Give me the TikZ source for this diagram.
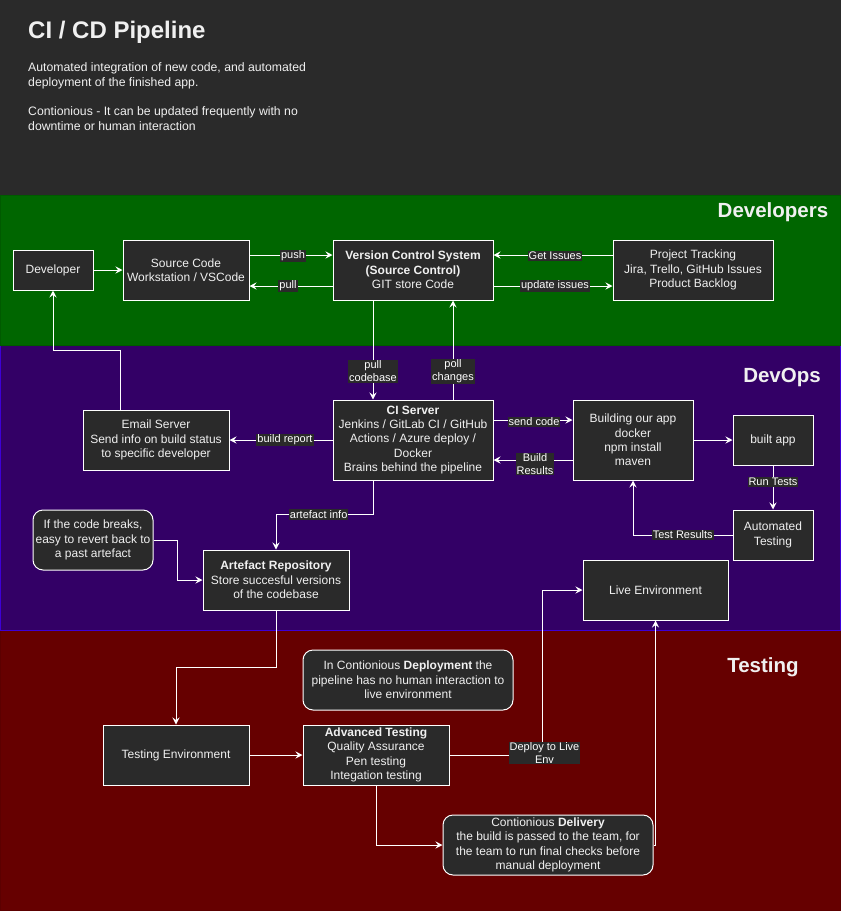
\documentclass[tikz,border=0pt]{standalone}
\usepackage{fontspec}
\setmainfont{Liberation Sans}
\usetikzlibrary{arrows.meta}
\definecolor{panel}{HTML}{2A2A2A}
\definecolor{devgreen}{HTML}{006600}
\definecolor{devgreenedge}{HTML}{005A00}
\definecolor{opspurple}{HTML}{330066}
\definecolor{opsedge}{HTML}{3D00D6}
\definecolor{testred}{HTML}{660000}
\definecolor{testedge}{HTML}{5C0000}
\definecolor{ink}{HTML}{F0F0F0}
\begin{document}
\begin{tikzpicture}[x=1pt,y=-1pt,
  box/.style={draw=white, line width=1pt, fill=panel, text=ink, align=center,
    inner sep=0pt, font=\fontsize{12}{14.4}\selectfont},
  note/.style={box, rounded corners=10pt},
  flow/.style={draw=white, line width=1pt, -{Stealth[length=7pt,width=7pt,inset=2.5pt]}},
  tag/.style={fill=panel, text=white, inner sep=1pt, align=center,
    font=\fontsize{11}{12.6}\selectfont},
  lane/.style={text=ink, font=\fontsize{20.5}{24}\selectfont\bfseries},
  para/.style={text=ink, anchor=west, align=left, inner sep=0pt,
    font=\fontsize{12.25}{15}\selectfont}
]
\useasboundingbox (0,0) rectangle (841,911);

% header and swimlanes
\fill[panel] (0,0) rectangle (841,195);
\filldraw[fill=testred, draw=testedge, line width=1pt] (0.5,630.5) rectangle (840.5,910.5);
\filldraw[fill=opspurple, draw=opsedge, line width=1pt] (0.5,345.5) rectangle (840.5,630.5);
\filldraw[fill=devgreen, draw=devgreenedge, line width=1pt] (0.5,195.5) rectangle (840.5,345.5);

\node[text=ink, anchor=west, inner sep=0pt, font=\fontsize{24}{28}\selectfont\bfseries] (title) at (28,32) {CI / CD Pipeline};
\node[para] (intro) at (28,76) {Automated integration of new code, and automated\\deployment of the finished app.};
\node[para] (cont) at (28,119) {Contionious - It can be updated frequently with no\\downtime or human interaction};

\node[lane] (devlane) at (773,212) {Developers};
\node[lane] (opslane) at (782,377) {DevOps};
\node[lane] (testlane) at (763,667) {Testing};

% Developers lane
\node[box, minimum width=80pt, minimum height=40pt] (dev) at (53,270) {Developer};
\node[box, minimum width=126pt, minimum height=60pt] (src) at (186,270) {Source Code\\Workstation / VSCode};
\node[box, minimum width=160pt, minimum height=60pt] (vcs) at (413,270) {\textbf{Version Control System}\\\textbf{(Source Control)}\\GIT store Code};
\node[box, minimum width=160pt, minimum height=60pt] (trk) at (693,270) {Project Tracking\\Jira, Trello, GitHub Issues\\Product Backlog};

% DevOps lane
\node[box, minimum width=146pt, minimum height=60pt] (email) at (156,440) {Email Server\\Send info on build status\\to specific developer};
\node[box, minimum width=160pt, minimum height=80pt] (ci) at (413,440) {\textbf{CI Server}\\Jenkins / GitLab CI / GitHub\\Actions / Azure deploy /\\Docker\\Brains behind the pipeline};
\node[box, minimum width=120pt, minimum height=80pt] (bld) at (633,440) {Building our app\\docker\\npm install\\maven};
\node[box, minimum width=80pt, minimum height=50pt] (app) at (773,440) {built app};
\node[box, minimum width=80pt, minimum height=50pt] (auto) at (773,535) {Automated\\Testing};
\node[box, minimum width=145pt, minimum height=60pt] (live) at (655.5,590) {Live Environment};
\node[note, minimum width=120pt, minimum height=60pt] (rev) at (93,540) {If the code breaks,\\easy to revert back to\\a past artefact};
\node[box, minimum width=146pt, minimum height=60pt] (art) at (276,580) {\textbf{Artefact Repository}\\Store succesful versions\\of the codebase};

% Testing lane
\node[box, minimum width=146pt, minimum height=60pt] (tenv) at (176,755) {Testing Environment};
\node[box, minimum width=146pt, minimum height=60pt] (adv) at (376,755) {\textbf{Advanced Testing}\\Quality Assurance\\Pen testing\\Integation testing};
\node[note, minimum width=210pt, minimum height=60pt] (cdep) at (408,680) {In Contionious \textbf{Deployment} the\\pipeline has no human interaction to\\live environment};
\node[note, minimum width=210pt, minimum height=60pt] (cd) at (548,845) {Contionious \textbf{Delivery}\\the build is passed to the team, for\\the team to run final checks before\\manual deployment};

% connectors
\draw[flow] (dev) -- (src);
\draw[flow] ([yshift=15pt]src.east) -- node[tag, yshift=-1pt, xshift=2pt]{push} ([yshift=15pt]vcs.west);
\draw[flow] ([yshift=-16pt]vcs.west) -- node[tag, xshift=-3pt]{pull} ([yshift=-16pt]src.east);
\draw[flow] ([yshift=15pt]trk.west) -- node[tag, yshift=-1pt, xshift=2pt]{Get Issues} ([yshift=15pt]vcs.east);
\draw[flow] ([yshift=-16pt]vcs.east) -- node[tag, xshift=2pt]{update issues} ([yshift=-16pt]trk.west);
\draw[flow] ([xshift=-40pt]vcs.south) -- node[tag, pos=0.715]{pull\\codebase} ([xshift=-40pt]ci.north);
\draw[flow] ([xshift=40pt]ci.north) -- node[tag, pos=0.285]{poll\\changes} ([xshift=40pt]vcs.south);
\draw[flow] ([xshift=-36pt]email.north) |- ([yshift=-60pt]dev.south) -- (dev.south);
\draw[flow] (ci.west) -- node[tag, xshift=4pt]{build report} (email.east);
\draw[flow] ([yshift=20pt]ci.east) -- node[tag, yshift=-2pt, xshift=1pt]{send code} ([yshift=20pt]bld.west);
\draw[flow] ([yshift=-20pt]bld.west) -- node[tag, yshift=-4pt, xshift=2pt]{Build\\Results} ([yshift=-20pt]ci.east);
\draw[flow] (bld.east) -- (app.west);
\draw[flow] (app.south) -- node[tag, pos=0.38]{Run Tests} (auto.north);
\draw[flow] (auto.west) -| node[tag, pos=0.25]{Test Results} (bld.south);
\draw[flow] ([xshift=-40pt]ci.south) |- node[tag, pos=0.78]{artefact info} ([yshift=35pt]art.north) -- (art.north);
\draw[flow] (rev.east) -| ([xshift=-25pt]art.west) -- (art.west);
\draw[flow] (art.south) |- ([yshift=57pt]tenv.north) -- (tenv.north);
\draw[flow] (tenv.east) -- (adv.west);
\draw[flow] (adv.east) -| node[tag, pos=0.5, xshift=2pt, yshift=2pt]{Deploy to Live\\Env} ([xshift=-40pt]live.west) -- (live.west);
\draw[flow] (adv.south) |- (cd.west);
\draw[flow] (cd.east) -| (live.south);
\end{tikzpicture}
\end{document}
